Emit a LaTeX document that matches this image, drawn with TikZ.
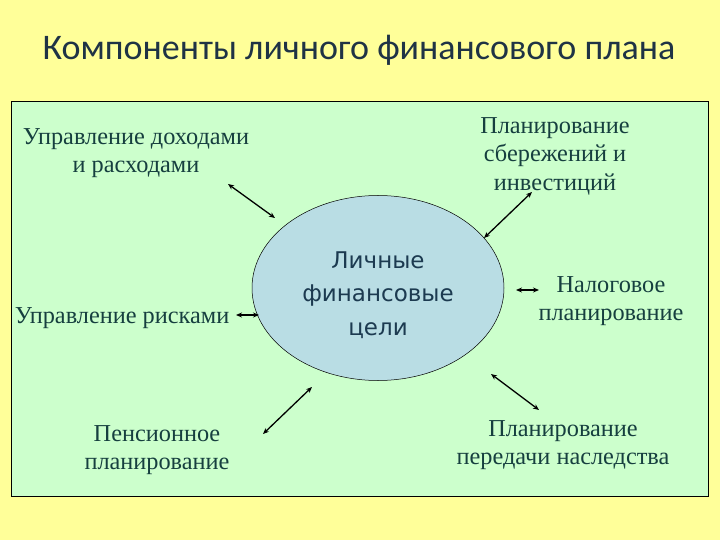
\documentclass[tikz,border=0pt]{standalone}
\usepackage{fontspec}
\setmainfont{Liberation Serif}
\newfontfamily\titlefont{Carlito}
\newfontfamily\goalfont{DejaVu Sans}
\usetikzlibrary{arrows.meta,shapes.geometric}
\definecolor{bgyellow}{HTML}{FFFF99}
\definecolor{boxgreen}{HTML}{CCFFCC}
\definecolor{goalblue}{HTML}{B9DDE4}
\definecolor{txtteal}{HTML}{163F3F}
\definecolor{titlecol}{HTML}{1F3345}
\definecolor{goaltxt}{HTML}{1C3A50}
\tikzset{
  lbl/.style={font=\fontsize{24.3}{28.5}\selectfont, text=txtteal, align=center, inner sep=0pt},
  link/.style={{Stealth[length=6pt,width=5pt]}-{Stealth[length=6pt,width=5pt]}, line width=1.3pt, black},
}
\begin{document}
\begin{tikzpicture}[x=1pt,y=-1pt]
\useasboundingbox (0,0) rectangle (720,540);
\fill[bgyellow] (0,0) rectangle (720,540);
\draw[fill=boxgreen, line width=0.9pt] (11,101) rectangle (708,496);
\node[font=\titlefont\fontsize{36}{40}\selectfont, text=titlecol] (title) at (359,50) {Компоненты личного финансового плана};
\node[ellipse, draw, line width=0.5pt, fill=goalblue, minimum width=252pt, minimum height=185pt, inner sep=0pt] (goal) at (378,288) {};
\node[font=\goalfont\fontsize{23}{33.5}\selectfont, text=goaltxt, align=center] (goaltext) at (378,295) {Личные\\финансовые\\цели};
\node[lbl] (inc) at (136,153) {Управление доходами\\и расходами};
\node[lbl] (sav) at (555,156) {Планирование\\сбережений и\\инвестиций};
\node[lbl] (tax) at (611,301) {Налоговое\\планирование};
\node[lbl] (risk) at (122,318) {Управление рисками};
\node[lbl] (pen) at (157,450) {Пенсионное\\планирование};
\node[lbl] (inh) at (563,445) {Планирование\\передачи наследства};
\coordinate (a1) at (228,184); \coordinate (b1) at (275,218);
\coordinate (a2) at (532,192); \coordinate (b2) at (484,238);
\coordinate (a3) at (539,290); \coordinate (b3) at (516,290);
\coordinate (a4) at (236,315); \coordinate (b4) at (259,315);
\coordinate (a5) at (263,434); \coordinate (b5) at (312,387);
\coordinate (a6) at (539,410); \coordinate (b6) at (491,374);
\draw[link] (a1) -- (b1);
\draw[link] (a2) -- (b2);
\draw[link] (a3) -- (b3);
\draw[link] (a4) -- (b4);
\draw[link] (a5) -- (b5);
\draw[link] (a6) -- (b6);
\end{tikzpicture}
\end{document}
